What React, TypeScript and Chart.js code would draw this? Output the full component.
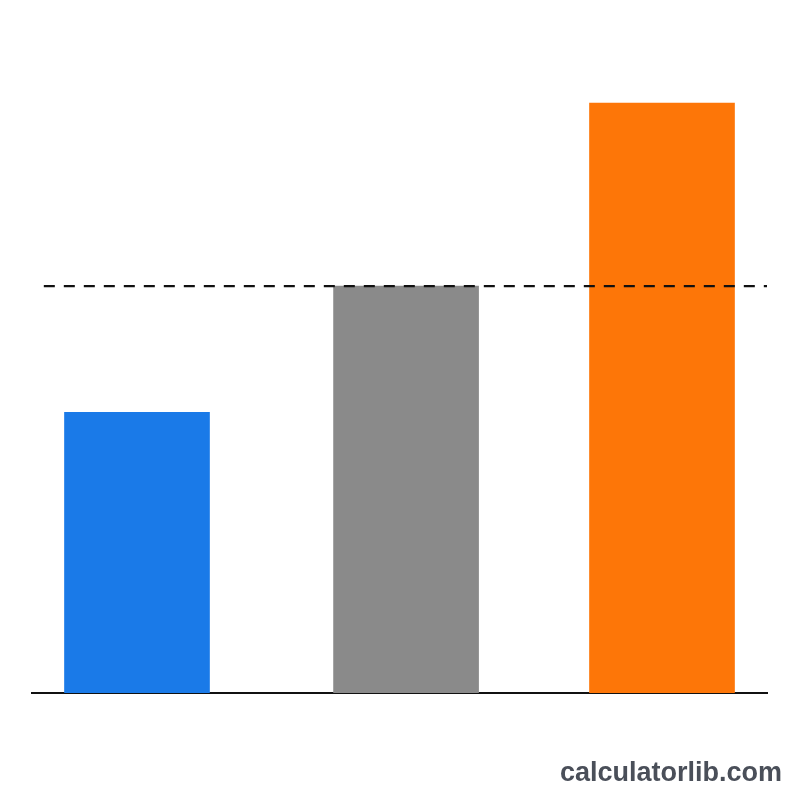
import { useEffect, useRef } from "react"
import { Chart, registerables } from "chart.js"

Chart.register(...registerables)

// data
const categories = ["A", "B", "C"]
const positions = [1, 2.025, 3]
const values = [69, 100, 145]
const referenceValue = 100
const referenceSpan = [0.645, 3.4]
const barColors = ["#1a7ae8", "#8a8a8a", "#fd7608"]

export default function App() {
  const chartRef = useRef<HTMLCanvasElement>(null)
  const chartInstance = useRef<Chart | null>(null)

  useEffect(() => {
    if (!chartRef.current) return
    if (chartInstance.current) chartInstance.current.destroy()

    const ctx = chartRef.current.getContext("2d")
    if (!ctx) return

    chartInstance.current = new Chart(ctx, {
      type: "bar",
      data: {
        datasets: [
          {
            type: "bar",
            label: "values",
            data: positions.map((x, i) => ({ x, y: values[i] })),
            backgroundColor: barColors,
            borderWidth: 0,
            barThickness: 145,
            order: 2,
          },
          {
            type: "line",
            label: "reference",
            data: referenceSpan.map((x) => ({ x, y: referenceValue })),
            borderColor: "#111111",
            borderWidth: 2.2,
            borderDash: [11, 9],
            pointRadius: 0,
            fill: false,
            order: 1,
          },
        ] as any,
      },
      options: {
        animation: false,
        responsive: true,
        maintainAspectRatio: false,
        layout: {
          padding: { top: 42, bottom: 107, left: 32, right: 33 },
        },
        plugins: {
          legend: { display: false },
          tooltip: { enabled: false },
        },
        scales: {
          x: {
            type: "linear",
            min: 0.6,
            max: 3.4,
            offset: false,
            grid: { display: false, drawTicks: false },
            border: { display: true, color: "#111111", width: 2 },
            ticks: { display: false },
          },
          y: {
            min: 0,
            max: 160,
            grid: { display: false, drawTicks: false },
            border: { display: false },
            ticks: { display: false },
          },
        },
      },
    })

    return () => {
      if (chartInstance.current) {
        chartInstance.current.destroy()
        chartInstance.current = null
      }
    }
  }, [])

  return (
    <div
      style={{
        position: "fixed",
        left: 0,
        top: 0,
        width: 800,
        height: 800,
        background: "#ffffff",
      }}
    >
      <canvas ref={chartRef} aria-label={categories.join(", ")} />
      <div
        style={{
          position: "absolute",
          right: 18,
          top: 757,
          fontFamily: "'Liberation Sans', Arial, sans-serif",
          fontWeight: 700,
          fontSize: 27,
          color: "#4a4f59",
        }}
      >
        calculatorlib.com
      </div>
    </div>
  )
}
